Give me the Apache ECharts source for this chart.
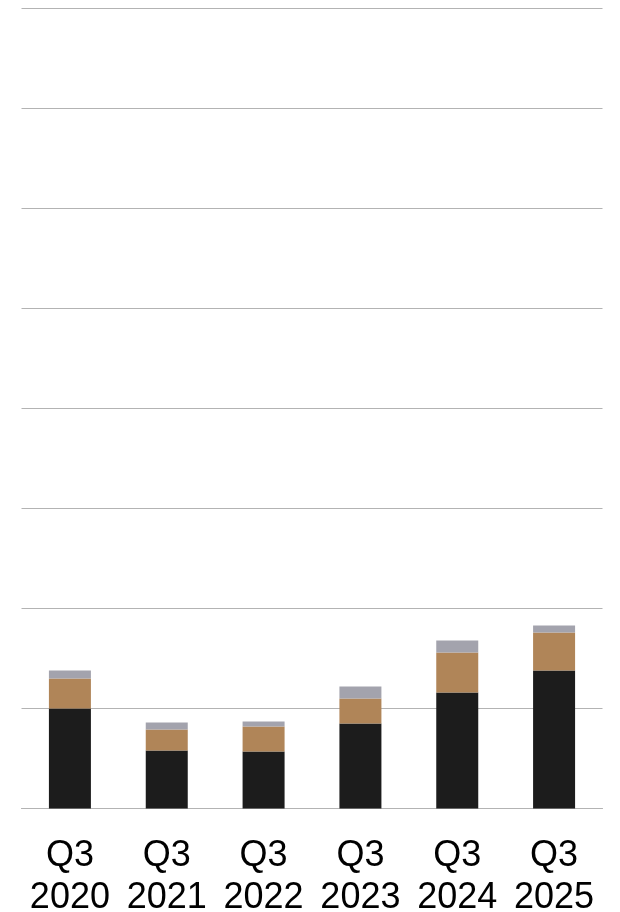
<!DOCTYPE html>
<html>
<head>
<meta charset="utf-8">
<script src="https://cdn.jsdelivr.net/npm/echarts@6/dist/echarts.min.js"></script>
<style>html,body{margin:0;padding:0;background:#fff;}#chart{width:620px;height:912px;}</style>
</head>
<body>
<div id="chart"></div>
<script>
const categories = ["Q3\n2020", "Q3\n2021", "Q3\n2022", "Q3\n2023", "Q3\n2024", "Q3\n2025"];
const seriesBlack = [1.0, 0.58, 0.57, 0.85, 1.16, 1.38];
const seriesBrown = [0.30, 0.21, 0.25, 0.25, 0.40, 0.38];
const seriesGray = [0.08, 0.07, 0.05, 0.12, 0.12, 0.07];

const chart = echarts.init(document.getElementById('chart'), null, {renderer: 'canvas'});
const common = {type: 'bar', stack: 'total', barWidth: 42, animation: false};
chart.setOption({
  animation: false,
  grid: {left: 21.5, width: 581, top: 8.5, height: 800, containLabel: false, outerBoundsMode: 'none'},
  xAxis: {
    type: 'category', data: categories,
    axisLine: {show: true, lineStyle: {color: '#b3b3b3', width: 1}},
    axisTick: {show: false},
    axisLabel: {interval: 0, hideOverlap: false, color: '#000', fontFamily: 'Liberation Sans, Arial, sans-serif', fontSize: 36, lineHeight: 42, margin: 27}
  },
  yAxis: {
    type: 'value', min: 0, max: 8, interval: 1,
    axisLabel: {show: false}, axisLine: {show: false}, axisTick: {show: false},
    splitLine: {show: true, lineStyle: {color: '#b3b3b3', width: 1}}
  },
  series: [
    Object.assign({name: 'A', data: seriesBlack, itemStyle: {color: '#1c1c1c'}}, common),
    Object.assign({name: 'B', data: seriesBrown, itemStyle: {color: '#b08558'}}, common),
    Object.assign({name: 'C', data: seriesGray, itemStyle: {color: '#a3a3ad'}}, common)
  ]
});
</script>
</body>
</html>
